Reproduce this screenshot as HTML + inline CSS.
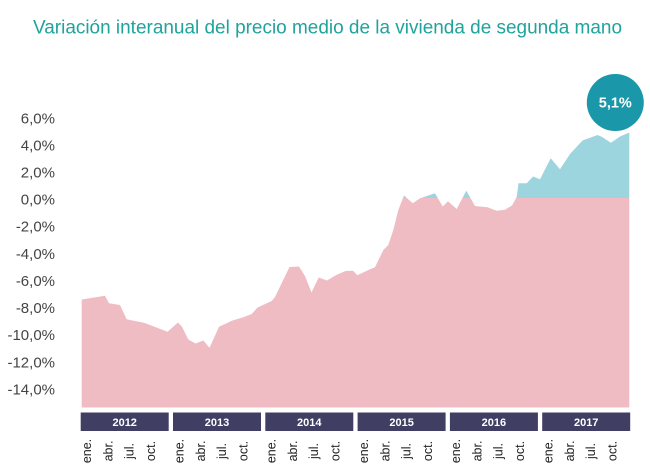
<!DOCTYPE html>
<html>
<head>
<meta charset="utf-8">
<style>
  html,body{margin:0;padding:0;background:#fff;}
  svg{display:block;}
  text{font-family:"Liberation Sans",Arial,sans-serif;}
</style>
</head>
<body>
<svg width="650" height="473" viewBox="0 0 650 473" xmlns="http://www.w3.org/2000/svg">
  <defs>
    <clipPath id="below"><rect x="0" y="198" width="650" height="260"/></clipPath>
    <clipPath id="above"><rect x="0" y="0" width="650" height="198"/></clipPath>
  </defs>

  <!-- Title -->
  <text x="33" y="33.3" font-size="19.5" fill="#1fa39b" textLength="589" lengthAdjust="spacingAndGlyphs">Variación interanual del precio medio de la vivienda de segunda mano</text>

  <!-- Y axis labels -->
  <g font-size="15" fill="#444" text-anchor="end">
    <text x="55" y="123.3">6,0%</text>
    <text x="55" y="150.4">4,0%</text>
    <text x="55" y="177.5">2,0%</text>
    <text x="55" y="204.6">0,0%</text>
    <text x="55" y="231.7">-2,0%</text>
    <text x="55" y="258.9">-4,0%</text>
    <text x="55" y="286">-6,0%</text>
    <text x="55" y="313.1">-8,0%</text>
    <text x="55" y="340.2">-10,0%</text>
    <text x="55" y="367.4">-12,0%</text>
    <text x="55" y="394.5">-14,0%</text>
  </g>

  <!-- Area series -->
  <g id="area">
    <polygon fill="#9dd5df" clip-path="url(#above)" points="81.7,407.5 81.7,299.5 105,295.8 109,303.3 120,305 126.7,319.3 144,322.7 150,325 167.5,331.7 178,322.5 182,326.7 188.3,339.5 195.5,343.5 203.3,340.5 209.5,347.8 219,326.7 232.5,320.5 243.3,317.3 251.7,314 257.5,307.5 271.7,301 275,297 289.5,267 299,266.5 305,276 311.5,292.5 318.7,277.5 327,280.5 336.7,274.7 345.5,271 353,270.7 357.3,275.3 370,269.3 375,267.3 383.3,250 388.3,245 393.3,230 398.3,210 404,195.5 412.7,203.3 420,198.3 435,193.3 442.7,206.5 448,201.3 456.7,209 466.3,190.7 475,206 487.5,207.3 496.7,210.7 505,209.7 512,205.5 516.7,197 518.5,183.3 526.7,183.3 533,176.5 540,179.3 550.7,158.3 560,169.2 570,154 582.5,140.5 597.5,135 601.7,136.7 611,142.7 620,136.5 629.3,132.5 629.3,407.5"/>
    <polygon fill="#efbcc4" clip-path="url(#below)" points="81.7,407.5 81.7,299.5 105,295.8 109,303.3 120,305 126.7,319.3 144,322.7 150,325 167.5,331.7 178,322.5 182,326.7 188.3,339.5 195.5,343.5 203.3,340.5 209.5,347.8 219,326.7 232.5,320.5 243.3,317.3 251.7,314 257.5,307.5 271.7,301 275,297 289.5,267 299,266.5 305,276 311.5,292.5 318.7,277.5 327,280.5 336.7,274.7 345.5,271 353,270.7 357.3,275.3 370,269.3 375,267.3 383.3,250 388.3,245 393.3,230 398.3,210 404,195.5 412.7,203.3 420,198.3 435,193.3 442.7,206.5 448,201.3 456.7,209 466.3,190.7 475,206 487.5,207.3 496.7,210.7 505,209.7 512,205.5 516.7,197 518.5,183.3 526.7,183.3 533,176.5 540,179.3 550.7,158.3 560,169.2 570,154 582.5,140.5 597.5,135 601.7,136.7 611,142.7 620,136.5 629.3,132.5 629.3,407.5"/>
  </g>

  <!-- Callout circle -->
  <circle cx="615.3" cy="102.5" r="28.5" fill="#1a98a9"/>
  <text x="615.3" y="107.5" font-size="14.5" font-weight="bold" fill="#fff" text-anchor="middle">5,1%</text>

  <!-- Year boxes -->
  <g fill="#403e63">
    <rect x="80.7" y="412.5" width="88" height="18.5"/>
    <rect x="173" y="412.5" width="88" height="18.5"/>
    <rect x="265.3" y="412.5" width="88" height="18.5"/>
    <rect x="357.6" y="412.5" width="88" height="18.5"/>
    <rect x="449.9" y="412.5" width="88" height="18.5"/>
    <rect x="542.2" y="412.5" width="88" height="18.5"/>
  </g>
  <g font-size="11" font-weight="bold" fill="#fff" text-anchor="middle">
    <text x="124.7" y="425.8">2012</text>
    <text x="217" y="425.8">2013</text>
    <text x="309.3" y="425.8">2014</text>
    <text x="401.6" y="425.8">2015</text>
    <text x="493.9" y="425.8">2016</text>
    <text x="586.2" y="425.8">2017</text>
  </g>

  <!-- Month labels -->
  <g font-size="12.5" fill="#222" text-anchor="middle">
    <text transform="translate(91,451) rotate(-90)">ene.</text>
    <text transform="translate(112.5,451) rotate(-90)">abr.</text>
    <text transform="translate(133.5,451) rotate(-90)">jul.</text>
    <text transform="translate(155,451) rotate(-90)">oct.</text>

    <text transform="translate(183.3,451) rotate(-90)">ene.</text>
    <text transform="translate(204.8,451) rotate(-90)">abr.</text>
    <text transform="translate(225.8,451) rotate(-90)">jul.</text>
    <text transform="translate(247.3,451) rotate(-90)">oct.</text>

    <text transform="translate(275.6,451) rotate(-90)">ene.</text>
    <text transform="translate(297.1,451) rotate(-90)">abr.</text>
    <text transform="translate(318.1,451) rotate(-90)">jul.</text>
    <text transform="translate(339.6,451) rotate(-90)">oct.</text>

    <text transform="translate(367.9,451) rotate(-90)">ene.</text>
    <text transform="translate(389.4,451) rotate(-90)">abr.</text>
    <text transform="translate(410.4,451) rotate(-90)">jul.</text>
    <text transform="translate(431.9,451) rotate(-90)">oct.</text>

    <text transform="translate(460.2,451) rotate(-90)">ene.</text>
    <text transform="translate(481.7,451) rotate(-90)">abr.</text>
    <text transform="translate(502.7,451) rotate(-90)">jul.</text>
    <text transform="translate(524.2,451) rotate(-90)">oct.</text>

    <text transform="translate(552.5,451) rotate(-90)">ene.</text>
    <text transform="translate(574,451) rotate(-90)">abr.</text>
    <text transform="translate(595,451) rotate(-90)">jul.</text>
    <text transform="translate(616.5,451) rotate(-90)">oct.</text>
  </g>
</svg>
</body>
</html>
